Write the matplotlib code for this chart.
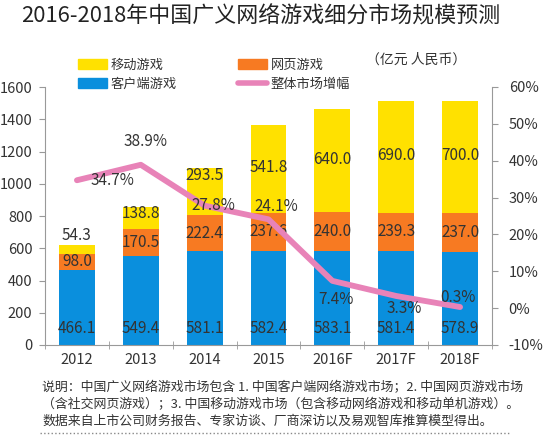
import numpy as np
import matplotlib.pyplot as plt
from matplotlib.patches import Patch
from matplotlib.lines import Line2D

plt.rcParams['font.family'] = ['Noto Sans CJK SC', 'DejaVu Sans']

# ===== du lieu =====
years = ['2012', '2013', '2014', '2015', '2016F', '2017F', '2018F']
client = [466.1, 549.4, 581.1, 582.4, 583.1, 581.4, 578.9]     # 客户端游戏
web = [98.0, 170.5, 222.4, 237.6, 240.0, 239.3, 237.0]         # 网页游戏
mobile = [54.3, 138.8, 293.5, 541.8, 640.0, 690.0, 700.0]      # 移动游戏
growth = [34.7, 38.9, 27.8, 24.1, 7.4, 3.3, 0.3]               # 整体市场增幅 (%)
# vi tri nhan % (pixel lech so voi diem)
growth_off = [(36, 0), (5, 23), (9, 0), (8, 13), (4, -19), (8, -13), (-2, 10)]

c_yellow = '#FFE100'
c_orange = '#F77A22'
c_blue = '#0A8FDD'
c_pink = '#E883B8'
c_text = '#333333'

fig = plt.figure(figsize=(5.45, 4.40), dpi=100)
ax = fig.add_axes([45/545, 1-345/440, (492-45)/545, (345-87)/440])

x = np.arange(len(years))
w = 0.56
b1 = np.array(client)
b2 = b1 + np.array(web)
ax.bar(x, client, w, color=c_blue, zorder=2)
ax.bar(x, web, w, bottom=b1, color=c_orange, zorder=2)
ax.bar(x, mobile, w, bottom=b2, color=c_yellow, zorder=2)

# nhan gia tri trong cot
for i in range(len(years)):
    ax.text(x[i], 105, f'{client[i]:.1f}', ha='center', va='center', fontsize=11, color=c_text, zorder=4)
    ax.text(x[i], b1[i] + web[i]/2, f'{web[i]:.1f}', ha='center', va='center', fontsize=11, color=c_text, zorder=4)
    if mobile[i] < 100:
        ax.text(x[i], b2[i] + mobile[i] + 60, f'{mobile[i]:.1f}', ha='center', va='center', fontsize=11, color=c_text, zorder=4)
    elif mobile[i] < 300:
        ax.text(x[i], b2[i] + mobile[i] - 45, f'{mobile[i]:.1f}', ha='center', va='center', fontsize=11, color=c_text, zorder=4)
    else:
        ax.text(x[i], b2[i] + mobile[i]/2 + 10, f'{mobile[i]:.1f}', ha='center', va='center', fontsize=11, color=c_text, zorder=4)

ax.set_xlim(-0.5, len(years) - 0.5)
ax.set_ylim(0, 1600)
ax.set_yticks(np.arange(0, 1601, 200))
ax.set_xticks(x)
ax.set_xticklabels(years)
ax.set_xticks(np.arange(-0.5, len(years), 1), minor=True)
ax.tick_params(axis='x', which='major', length=0, labelsize=10.5, colors=c_text, pad=6)
ax.tick_params(axis='x', which='minor', length=6, direction='inout', color='#999999')
ax.tick_params(axis='y', length=4, color='#999999', labelsize=10.5, labelcolor=c_text, pad=5)
for s in ['top', 'right']:
    ax.spines[s].set_visible(False)
for s in ['left', 'bottom']:
    ax.spines[s].set_color('#999999')

# truc phai: tang truong
ax2 = ax.twinx()
ax2.plot(x, growth, color=c_pink, linewidth=4.2, solid_capstyle='round', zorder=3)
ax2.set_ylim(-10, 60)
ax2.set_yticks(np.arange(-10, 61, 10))
ax2.set_yticklabels([f'{v}%' for v in range(-10, 61, 10)])
ax2.tick_params(axis='y', length=4, color='#999999', labelsize=10.5, labelcolor=c_text, pad=8)
for s in ['top', 'left', 'bottom']:
    ax2.spines[s].set_visible(False)
ax2.spines['right'].set_color('#999999')
for i in range(len(years)):
    ax2.annotate(f'{growth[i]:.1f}%', (x[i], growth[i]), xytext=growth_off[i], textcoords='offset pixels',
                 ha='center', va='center', fontsize=11, color=c_text, zorder=5)

# chu thich
handles = [Patch(color=c_yellow), Patch(color=c_blue), Patch(color=c_orange),
           Line2D([], [], color=c_pink, linewidth=4, solid_capstyle='round')]
labels = ['移动游戏', '客户端游戏', '网页游戏', '整体市场增幅']
fig.legend(handles, labels, ncol=2, loc='upper left', bbox_to_anchor=(66/545, 1-47/440),
           frameon=False, fontsize=9.5, handlelength=2.2, handleheight=0.75, handletextpad=0.3,
           columnspacing=4.6, labelspacing=0.45, labelcolor=c_text)
fig.text(366/545, 1-60/440, '（亿元 人民币）', fontsize=10, color=c_text, va='center')

fig.text(261/545, 1-17/440, '2016-2018年中国广义网络游戏细分市场规模预测', fontsize=15.8,
         ha='center', va='center', color='#222222')

note = ['说明：中国广义网络游戏市场包含 1. 中国客户端网络游戏市场；2. 中国网页游戏市场',
        '（含社交网页游戏）；3. 中国移动游戏市场（包含移动网络游戏和移动单机游戏）。',
        '数据来自上市公司财务报告、专家访谈、厂商深访以及易观智库推算模型得出。']
for k, line in enumerate(note):
    fig.text(42/545, 1-(388 + 16.5*k)/440, line, fontsize=9.3, color=c_text, va='center')
fig.add_artist(Line2D([40/545, 510/545], [1-433/440, 1-433/440], color='#888888',
                      linestyle=':', linewidth=1))

fig.savefig('out.png', dpi=100)
